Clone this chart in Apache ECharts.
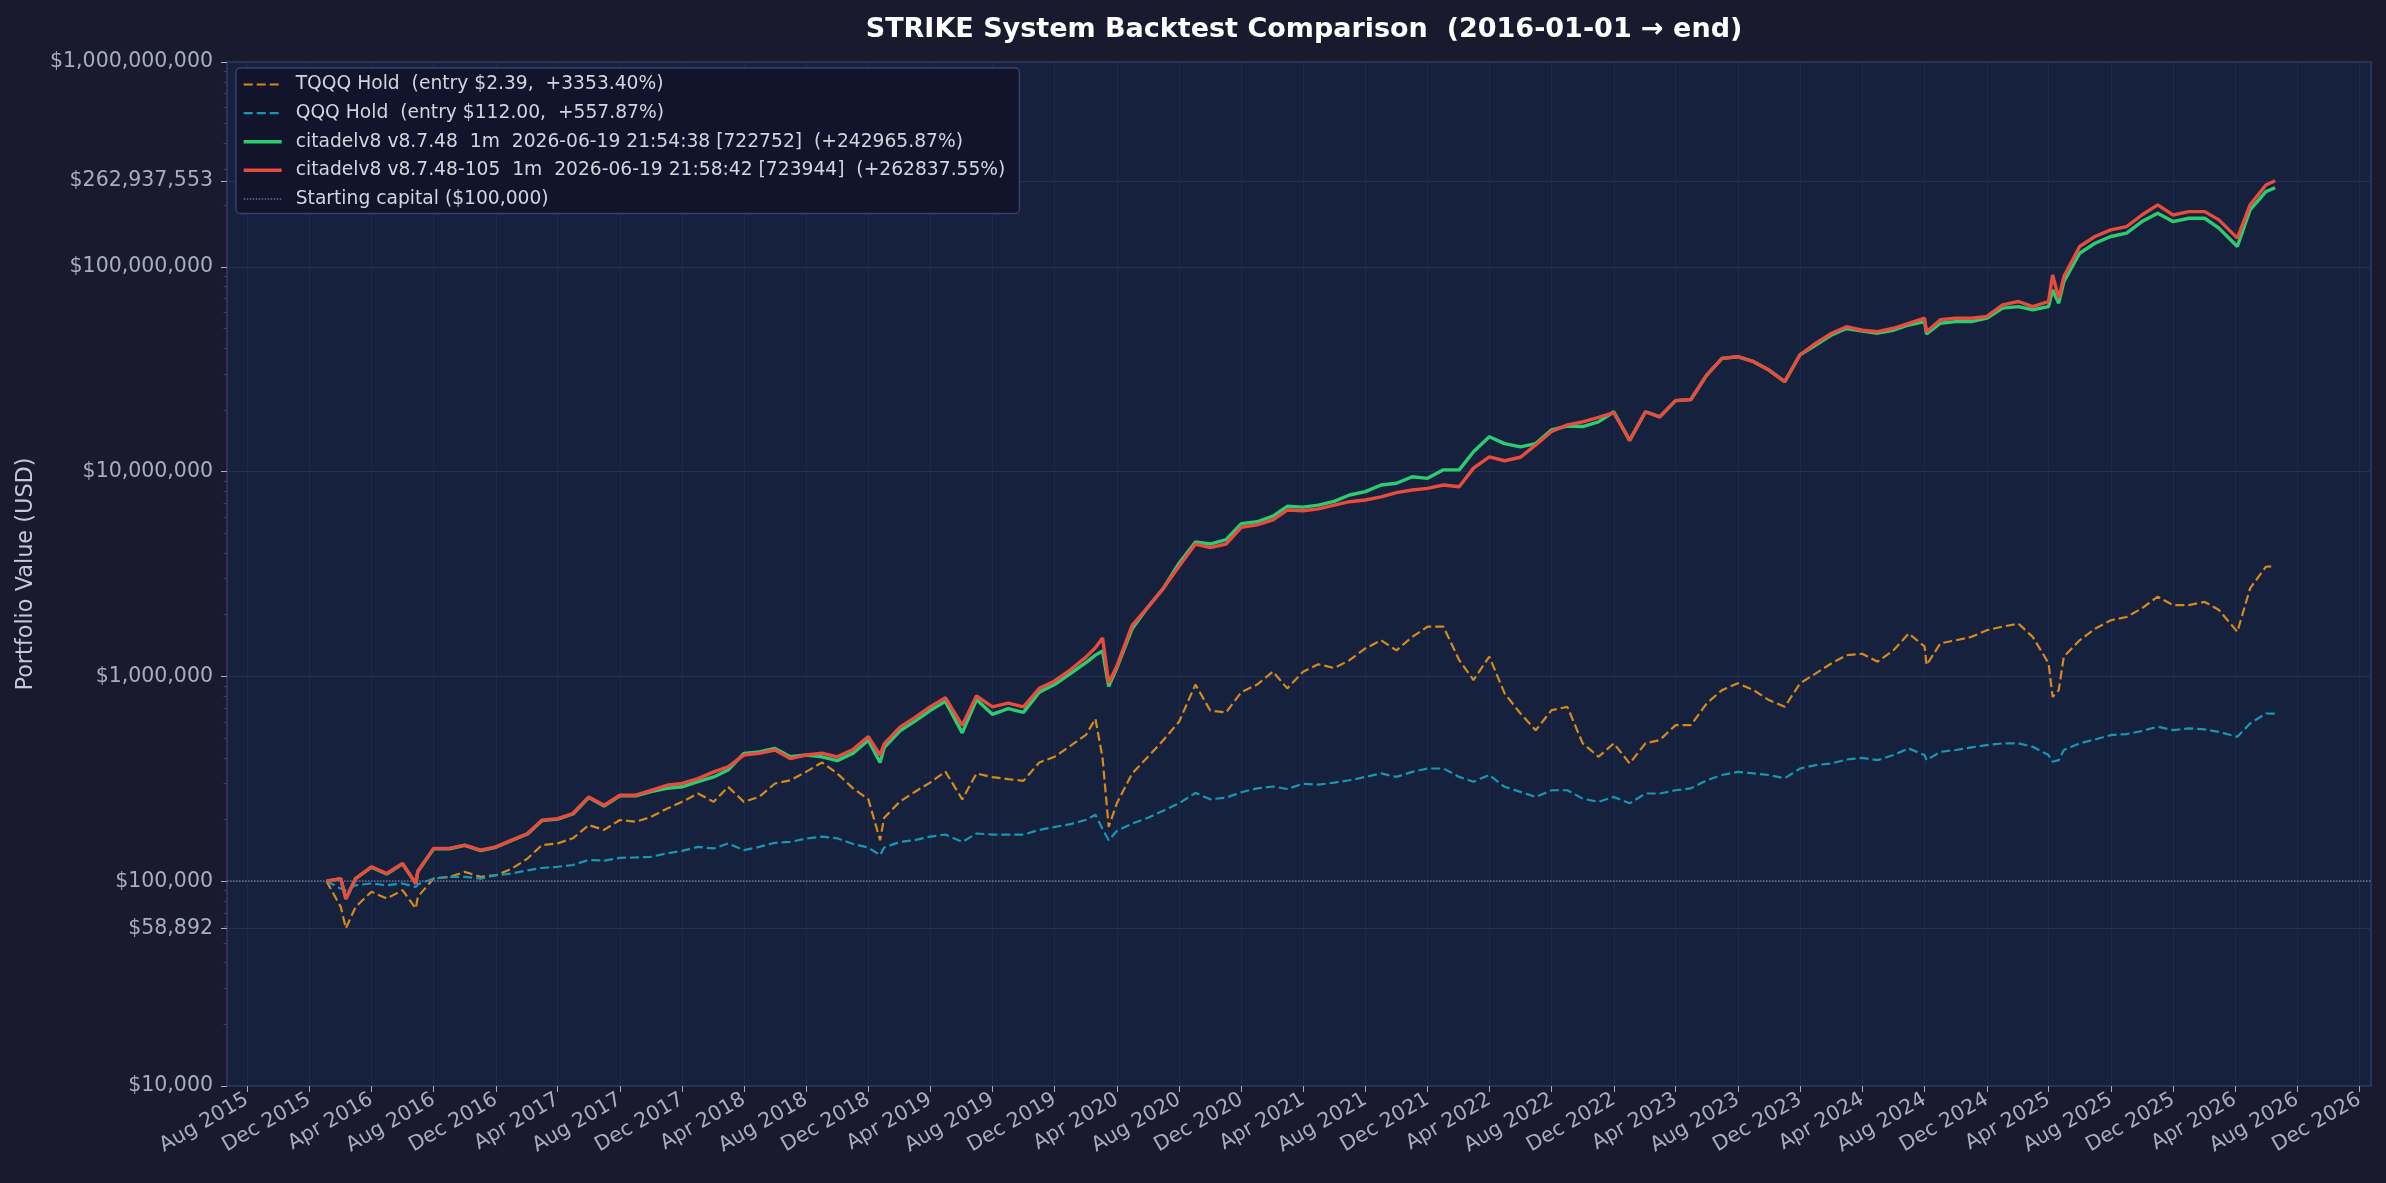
<!DOCTYPE html>
<html>
<head>
    <meta charset="utf-8">
    <title>STRIKE System Backtest Comparison</title>
    <script src="https://cdn.jsdelivr.net/npm/echarts@6/dist/echarts.min.js"></script>
    <style>
        html, body { margin: 0; padding: 0; background: #1a1a2e; }
        #main { width: 2386px; height: 1183px; }
    </style>
</head>
<body>
<div id="main"></div>
<script type="text/javascript">
    // sample dates (monthly, plus a few visible turning points)
    var dates = [
        '2016-01-04', '2016-02-01', '2016-02-11', '2016-03-01', '2016-04-01', '2016-05-01', '2016-06-01', '2016-06-27',
        '2016-07-01', '2016-08-01', '2016-09-01', '2016-10-01', '2016-11-01', '2016-12-01',
        '2017-01-01', '2017-02-01', '2017-03-01', '2017-04-01', '2017-05-01', '2017-06-01',
        '2017-07-01', '2017-08-01', '2017-09-01', '2017-10-01', '2017-11-01', '2017-12-01',
        '2018-01-01', '2018-02-01', '2018-03-01', '2018-04-01', '2018-05-01', '2018-06-01',
        '2018-07-01', '2018-08-01', '2018-09-01', '2018-10-01', '2018-11-01', '2018-12-01', '2018-12-24',
        '2019-01-01', '2019-02-01', '2019-03-01', '2019-04-01', '2019-05-01', '2019-06-03',
        '2019-07-01', '2019-08-01', '2019-09-01', '2019-10-01', '2019-11-01', '2019-12-01',
        '2020-01-01', '2020-02-01', '2020-02-19', '2020-03-04', '2020-03-16', '2020-04-01', '2020-05-01', '2020-06-01',
        '2020-07-01', '2020-08-01', '2020-09-02', '2020-10-01', '2020-11-01', '2020-12-01',
        '2021-01-01', '2021-02-01', '2021-03-01', '2021-04-01', '2021-05-01', '2021-06-01',
        '2021-07-01', '2021-08-01', '2021-09-01', '2021-10-01', '2021-11-01', '2021-12-01',
        '2022-01-01', '2022-02-01', '2022-03-01', '2022-04-01', '2022-05-01', '2022-06-01',
        '2022-07-01', '2022-08-01', '2022-09-01', '2022-10-01', '2022-11-01', '2022-12-01',
        '2023-01-01', '2023-02-01', '2023-03-01', '2023-04-01', '2023-05-01', '2023-06-01',
        '2023-07-01', '2023-08-01', '2023-09-01', '2023-10-01', '2023-11-01', '2023-12-01',
        '2024-01-01', '2024-02-01', '2024-03-01', '2024-04-01', '2024-05-01', '2024-06-01',
        '2024-07-01', '2024-08-01', '2024-08-05', '2024-09-01', '2024-10-01', '2024-11-01', '2024-12-01',
        '2025-01-01', '2025-02-01', '2025-03-01', '2025-04-01', '2025-04-09', '2025-04-21', '2025-05-01', '2025-06-01',
        '2025-07-01', '2025-08-01', '2025-09-01', '2025-10-01', '2025-11-01', '2025-12-01',
        '2026-01-01', '2026-02-01', '2026-03-01', '2026-04-06', '2026-05-01', '2026-06-01', '2026-06-19'
    ];

    var tqqqHold = [
        100000, 74900, 58892, 74900, 88800, 82300, 90400, 73600,
        84000, 103000, 105000, 111000, 105000, 107000,
        115000, 129000, 150000, 153000, 162000, 188000,
        178000, 199000, 195000, 206000, 226000, 244000,
        268000, 244000, 289000, 244000, 258000, 300000,
        311000, 342000, 380000, 336000, 284000, 251000, 158600,
        204000, 245000, 272000, 303000, 343000, 251000,
        336000, 322000, 315000, 309000, 380000, 405000,
        458000, 520000, 621000, 400000, 184000, 240000, 336000, 405000,
        488000, 601000, 912000, 681000, 667000, 838000,
        912000, 1055000, 874000, 1055000, 1146000, 1099000,
        1200000, 1370000, 1500000, 1340000, 1560000, 1750000,
        1750000, 1200000, 960000, 1250000, 826000, 659000,
        546000, 684000, 710000, 471000, 405000, 471000,
        376000, 471000, 489000, 578000, 578000, 738000,
        857000, 925000, 857000, 766000, 710000, 925000,
        1035000, 1160000, 1270000, 1290000, 1180000, 1340000,
        1620000, 1400000, 1136000, 1450000, 1500000, 1560000, 1680000,
        1750000, 1810000, 1560000, 1160000, 794000, 857000, 1250000, 1500000,
        1710000, 1880000, 1950000, 2150000, 2450000, 2230000,
        2230000, 2310000, 2110000, 1650000, 2690000, 3430000, 3453400
    ];

    var qqqHold = [
        100000, 92000, 90400, 95500, 97500, 95500, 97500, 93800,
        96500, 103000, 105000, 105000, 103000, 107000,
        109000, 113000, 116000, 117600, 120000, 127000,
        126000, 130000, 130600, 131600, 136600, 140700,
        147000, 144500, 153000, 141700, 147000, 154000,
        155600, 161700, 165000, 162000, 152000, 146000, 134000,
        146000, 155500, 158600, 165000, 169000, 155500,
        171000, 169000, 169000, 169000, 178000, 184000,
        190000, 199500, 211000, 180000, 158600, 176000, 191000, 204000,
        221000, 240000, 270000, 251000, 256000, 272000,
        284000, 290000, 282000, 299000, 296000, 303000,
        311000, 323000, 336000, 323000, 342000, 355000,
        355000, 323000, 306000, 330000, 289000, 273000,
        258000, 278000, 278000, 253000, 244000, 258000,
        240000, 268000, 268000, 278000, 284000, 311000,
        330000, 342000, 336000, 330000, 318000, 355000,
        369000, 376000, 393000, 400000, 390000, 413000,
        445000, 413000, 390000, 428000, 437000, 450000, 462000,
        471000, 471000, 453000, 413000, 383000, 390000, 437000, 471000,
        492000, 517000, 523000, 541000, 568000, 547000,
        557000, 551000, 536000, 507000, 589000, 659000, 657870
    ];

    var citadelBase = [
        100000, 103000, 82000, 103000, 117000, 108500, 121500, 97500,
        111500, 144000, 144000, 149500, 141000, 146500,
        158000, 170000, 197500, 201000, 213000, 256000,
        233000, 261000, 261000, 274000, 284000, 289000,
        306000, 323000, 349000, 421000, 428000, 445000,
        405000, 413000, 405000, 388000, 422000, 488000, 380000,
        449000, 542000, 601000, 681000, 755000, 530000,
        771000, 653000, 696000, 667000, 838000, 912000,
        1033000, 1170000, 1270000, 1330000, 894000, 1099000, 1710000, 2180000,
        2690000, 3570000, 4530000, 4430000, 4650000, 5570000,
        5690000, 6060000, 6770000, 6710000, 6860000, 7150000,
        7690000, 7980000, 8600000, 8770000, 9440000, 9270000,
        10200000, 10200000, 12500000, 14800000, 13700000, 13200000,
        13700000, 16000000, 16700000, 16600000, 17500000, 19600000,
        14200000, 19600000, 18500000, 22200000, 22500000, 29600000,
        35700000, 36400000, 34400000, 31300000, 27500000, 37200000,
        41500000, 46500000, 50000000, 48500000, 47400000, 49000000,
        52000000, 54000000, 47000000, 53000000, 54000000, 54000000, 56100000,
        62800000, 63900000, 61700000, 63900000, 77100000, 66400000, 84700000, 116500000,
        130300000, 140600000, 146000000, 166300000, 182700000, 166300000,
        172600000, 172600000, 154500000, 125600000, 189700000, 232800000, 243065870
    ];

    var citadel105 = [
        100000, 103000, 82000, 103000, 117600, 109000, 122000, 97500,
        112000, 144600, 144600, 150000, 141700, 147000,
        158600, 171000, 198600, 202000, 214000, 258000,
        235000, 263000, 263000, 278000, 294000, 300000,
        317000, 342000, 362000, 413000, 421000, 437000,
        397000, 413000, 422000, 405000, 440000, 508000, 413000,
        468000, 565000, 627000, 710000, 788000, 576000,
        804000, 710000, 740000, 710000, 874000, 950000,
        1077000, 1246000, 1380000, 1540000, 931000, 1122000, 1775000, 2180000,
        2690000, 3450000, 4430000, 4250000, 4430000, 5350000,
        5500000, 5810000, 6490000, 6440000, 6580000, 6860000,
        7130000, 7270000, 7530000, 7890000, 8130000, 8280000,
        8600000, 8440000, 10400000, 11800000, 11300000, 11750000,
        13500000, 15700000, 16900000, 17500000, 18400000, 19400000,
        14200000, 19600000, 18500000, 22200000, 22500000, 29600000,
        35700000, 36400000, 34400000, 31300000, 27500000, 37200000,
        42400000, 47400000, 51000000, 49000000, 48200000, 50100000,
        53000000, 56100000, 48200000, 55100000, 56100000, 56100000, 57200000,
        65200000, 67700000, 63900000, 67700000, 91300000, 70300000, 89600000, 125600000,
        140600000, 151500000, 157000000, 179000000, 200600000, 179000000,
        186000000, 186000000, 169500000, 138000000, 200600000, 251000000, 262937553
    ];

    var startCapital = 100000;

    // x ticks every 4 months, extra y ticks (TQQQ low, best final value)
    var xTicks = [
        '2015-08-01', '2015-12-01', '2016-04-01', '2016-08-01', '2016-12-01', '2017-04-01', '2017-08-01',
        '2017-12-01', '2018-04-01', '2018-08-01', '2018-12-01', '2019-04-01', '2019-08-01', '2019-12-01',
        '2020-04-01', '2020-08-01', '2020-12-01', '2021-04-01', '2021-08-01', '2021-12-01', '2022-04-01',
        '2022-08-01', '2022-12-01', '2023-04-01', '2023-08-01', '2023-12-01', '2024-04-01', '2024-08-01',
        '2024-12-01', '2025-04-01', '2025-08-01', '2025-12-01', '2026-04-01', '2026-08-01', '2026-12-01'
    ];
    var yExtraTicks = [58892, 262937553];
    var yMinorSteps = [2, 3, 4, 5, 6, 7, 8, 9];
    var yDecades = [10000, 100000, 1000000, 10000000, 100000000];
    var xRange = ['2015-06-23', '2026-12-24'];

    var names = [
        'TQQQ Hold  (entry $2.39,  +3353.40%)',
        'QQQ Hold  (entry $112.00,  +557.87%)',
        'citadelv8 v8.7.48  1m  2026-06-19 21:54:38 [722752]  (+242965.87%)',
        'citadelv8 v8.7.48-105  1m  2026-06-19 21:58:42 [723944]  (+262837.55%)',
        'Starting capital ($100,000)'
    ];

    var MON = ['Jan', 'Feb', 'Mar', 'Apr', 'May', 'Jun', 'Jul', 'Aug', 'Sep', 'Oct', 'Nov', 'Dec'];
    function money(v) {
        return '$' + Math.round(v).toLocaleString('en-US');
    }
    function ts(s) {
        return Date.parse(s + 'T00:00:00Z');
    }
    function pairs(vals) {
        return dates.map(function (d, i) { return [ts(d), vals[i]]; });
    }

    var chart = echarts.init(document.getElementById('main'));
    var tickColor = '#a9adc0';
    var gridColor = '#25305a';
    var xTickTs = xTicks.map(ts);
    var yExtraLog = yExtraTicks.map(function (v) { return Math.log10(v); });
    var yMinorLog = [];
    yDecades.forEach(function (d) {
        yMinorSteps.forEach(function (s) { yMinorLog.push(Math.log10(d * s)); });
    });

    var option = {
        backgroundColor: '#1a1a2e',
        animation: false,
        textStyle: { fontFamily: 'DejaVu Sans' },
        title: {
            text: 'STRIKE System Backtest Comparison  (2016-01-01 \u2192 end)',
            left: 1299,
            top: 11,
            textAlign: 'center',
            textStyle: { color: '#ffffff', fontSize: 27, fontWeight: 'bold', fontFamily: 'DejaVu Sans' }
        },
        legend: {
            data: names,
            orient: 'vertical',
            left: 236,
            top: 68,
            padding: [7, 14, 5, 6],
            itemGap: 9.6,
            itemWidth: 38,
            itemHeight: 12,
            itemStyle: { opacity: 0 },
            lineStyle: { width: 'inherit' },
            backgroundColor: '#11142b',
            borderColor: '#3a3f6b',
            borderWidth: 1.5,
            borderRadius: 4,
            textStyle: { color: '#d2d4de', fontSize: 18.7, fontFamily: 'DejaVu Sans', padding: [0, 0, 0, 9] }
        },
        grid: {
            left: 227, right: 15, top: 62, bottom: 97,
            show: true,
            backgroundColor: '#16213e',
            borderColor: '#343a6a',
            borderWidth: 1.5
        },
        xAxis: {
            type: 'value',
            min: ts(xRange[0]),
            max: ts(xRange[1]),
            axisLine: { show: false },
            axisTick: { show: true, length: 6, lineStyle: { color: tickColor }, customValues: xTickTs },
            axisLabel: {
                customValues: xTickTs,
                rotate: 30,
                margin: 12,
                color: tickColor,
                fontSize: 20.5,
                fontFamily: 'DejaVu Sans',
                formatter: function (v) {
                    var d = new Date(v);
                    return MON[d.getUTCMonth()] + ' ' + d.getUTCFullYear();
                }
            },
            splitLine: { show: true, lineStyle: { color: '#1e2950', width: 1 } }
        },
        yAxis: [{
            type: 'log',
            logBase: 10,
            min: 10000,
            max: 1000000000,
            name: 'Portfolio Value (USD)',
            nameLocation: 'middle',
            nameRotate: 90,
            nameGap: 190,
            nameTextStyle: { color: '#c5c8d6', fontSize: 22.4, fontFamily: 'DejaVu Sans' },
            axisLine: { show: false },
            axisTick: { show: true, length: 6, lineStyle: { color: tickColor } },
            axisLabel: { color: tickColor, fontSize: 20.5, margin: 14, fontFamily: 'DejaVu Sans', formatter: money },
            splitLine: { show: true, lineStyle: { color: gridColor, width: 1 } }
        }, {
            // same log range in log10 units, only carries the two extra ticks
            type: 'value',
            min: 4,
            max: 9,
            position: 'left',
            axisLine: { show: false },
            axisTick: { show: true, length: 6, lineStyle: { color: tickColor }, customValues: yExtraLog },
            axisLabel: {
                color: tickColor, fontSize: 20.5, margin: 14, fontFamily: 'DejaVu Sans',
                customValues: yExtraLog,
                formatter: function (v) { return money(Math.pow(10, v)); }
            },
            splitLine: { show: true, lineStyle: { color: gridColor, width: 1 } }
        }, {
            // minor log ticks (2..9 in each decade)
            type: 'value',
            min: 4,
            max: 9,
            position: 'left',
            axisLine: { show: false },
            axisTick: { show: true, length: 3.5, lineStyle: { color: '#3c4064' }, customValues: yMinorLog },
            axisLabel: { show: false },
            splitLine: { show: false }
        }],
        series: [{
            name: names[0],
            type: 'line',
            symbol: 'none',
            data: pairs(tqqqHold),
            lineStyle: { color: '#d68a19', width: 2.2, type: [9, 4] },
            itemStyle: { color: '#d68a19' },
            z: 2
        }, {
            name: names[1],
            type: 'line',
            symbol: 'none',
            data: pairs(qqqHold),
            lineStyle: { color: '#1797b4', width: 2.2, type: [9, 4] },
            itemStyle: { color: '#1797b4' },
            z: 3
        }, {
            name: names[2],
            type: 'line',
            symbol: 'none',
            data: pairs(citadelBase),
            lineStyle: { color: '#2ecc71', width: 3.4 },
            itemStyle: { color: '#2ecc71' },
            z: 4
        }, {
            name: names[3],
            type: 'line',
            symbol: 'none',
            data: pairs(citadel105),
            lineStyle: { color: '#e74c3c', width: 3.4 },
            itemStyle: { color: '#e74c3c' },
            z: 5
        }, {
            name: names[4],
            type: 'line',
            symbol: 'none',
            data: [],
            lineStyle: { color: '#6b6f9a', width: 1.5, type: 'dotted' },
            itemStyle: { color: '#6b6f9a' },
            markLine: {
                silent: true,
                symbol: 'none',
                label: { show: false },
                lineStyle: { color: '#6b6f9a', width: 1.5, type: 'dotted' },
                data: [{ yAxis: startCapital }]
            },
            z: 1
        }]
    };

    chart.setOption(option);
</script>
</body>
</html>
